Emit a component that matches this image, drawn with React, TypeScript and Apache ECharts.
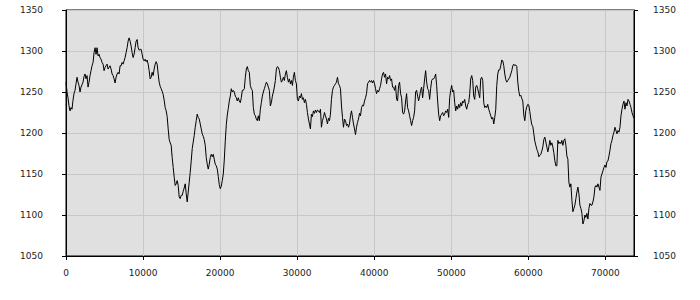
import React, { useEffect, useRef } from "react";
import * as echarts from "echarts";

// Sampling step along the x axis (data units between consecutive samples)
const X_STEP = 130;

// Series values, in order of increasing x
const seg1 = [
  1262, 1250, 1243, 1233, 1227, 1231, 1229, 1240, 1248, 1252, 1260, 1268, 1262, 1258, 1250, 1256, 1259, 1262, 1269, 1272,
  1266, 1270, 1256, 1262, 1270, 1276, 1282, 1286, 1298, 1304, 1296, 1304, 1294, 1296, 1292, 1290, 1286, 1284, 1276, 1280,
  1282, 1284, 1278, 1280, 1282, 1278, 1272, 1270, 1266, 1261, 1268, 1272, 1274, 1272, 1282, 1282, 1286, 1284, 1288, 1292,
  1298, 1304, 1312, 1316, 1312, 1306, 1298, 1292, 1296, 1304, 1312, 1314, 1304, 1301, 1302, 1302, 1296, 1290, 1288, 1290,
  1287,
];
const seg2 = [
  1289, 1284, 1276, 1266, 1268, 1274, 1270, 1278, 1284, 1287, 1284, 1272, 1262, 1257, 1254, 1251, 1247, 1240, 1231, 1227,
  1220, 1205, 1192, 1188, 1185, 1170, 1158, 1146, 1136, 1138, 1142, 1136, 1122, 1120, 1124, 1124, 1129, 1133, 1138, 1126,
  1116, 1128, 1140, 1152, 1166, 1181, 1189, 1197, 1207, 1215, 1223, 1219, 1217, 1211, 1205, 1199, 1196, 1192, 1185, 1170,
  1162, 1156, 1162, 1170, 1174, 1171, 1174, 1168, 1162, 1160, 1156, 1147, 1137, 1132, 1135, 1142, 1150, 1167, 1190, 1210,
  1222, 1230,
];
const seg3 = [
  1239, 1245, 1254, 1250, 1252, 1250, 1245, 1243, 1239, 1243, 1239, 1237, 1243, 1252, 1252, 1254, 1268, 1278, 1281, 1276,
  1274, 1258, 1254, 1252, 1231, 1223, 1221, 1217, 1215, 1221, 1215, 1229, 1237, 1245, 1250, 1254, 1258, 1262, 1260, 1256,
  1252, 1233, 1237, 1245, 1250, 1256, 1264, 1278, 1281, 1280, 1276, 1268, 1262, 1264, 1268, 1264, 1272, 1276, 1268, 1262,
  1266, 1260, 1264, 1258, 1268, 1274, 1264, 1260, 1241, 1239, 1245, 1243, 1248, 1241, 1243, 1237, 1241, 1235, 1225, 1217,
  1211, 1205,
];
const seg4 = [
  1223, 1220, 1227, 1224, 1228, 1225, 1228, 1227, 1225, 1229, 1207, 1215, 1219, 1225, 1221, 1217, 1211, 1218, 1215, 1223,
  1241, 1252, 1256, 1258, 1260, 1262, 1268, 1260, 1258, 1254, 1233, 1219, 1207, 1217, 1215, 1209, 1211, 1207, 1211, 1221,
  1227, 1219, 1211, 1205, 1198, 1207, 1213, 1217, 1224, 1221, 1231, 1234, 1233, 1239, 1243, 1248, 1260, 1262, 1264, 1262,
  1264, 1261, 1264, 1260, 1254, 1248, 1252, 1250, 1254, 1258, 1266, 1272, 1274, 1268, 1272, 1260, 1268, 1266, 1270, 1264,
  1266, 1256,
];
const seg5 = [
  1256, 1252, 1258, 1241, 1239, 1258, 1262, 1248, 1243, 1225, 1223, 1227, 1239, 1248, 1231, 1227, 1221, 1215, 1209, 1215,
  1219, 1227, 1250, 1252, 1245, 1239, 1245, 1252, 1256, 1243, 1254, 1266, 1276, 1262, 1254, 1252, 1241, 1254, 1264, 1266,
  1266, 1268, 1272, 1258, 1239, 1223, 1215, 1221, 1223, 1225, 1221, 1223, 1227, 1225, 1229, 1219, 1243, 1252, 1258, 1250,
  1252, 1237, 1227, 1233, 1229, 1235, 1231, 1237, 1233, 1239, 1237, 1241, 1233, 1229, 1235, 1237, 1248, 1266, 1270, 1264,
  1245, 1241,
];
const seg6 = [
  1256, 1258, 1254, 1248, 1243, 1266, 1268, 1264, 1237, 1231, 1233, 1231, 1235, 1229, 1225, 1221, 1217, 1219, 1211, 1219,
  1229, 1258, 1272, 1277, 1277, 1282, 1289, 1288, 1282, 1272, 1265, 1262, 1264, 1266, 1268, 1272, 1276, 1282, 1284, 1282,
  1283, 1281, 1262, 1251, 1245, 1246, 1242, 1239, 1222, 1215, 1227, 1232, 1235, 1234, 1226, 1217, 1210, 1208, 1199, 1190,
  1185, 1180, 1177, 1171, 1173, 1174, 1178, 1183, 1192, 1195, 1189, 1183, 1177, 1183, 1191, 1185, 1188, 1183, 1176, 1166,
  1160, 1160,
];
const seg7 = [
  1191, 1187, 1189, 1187, 1191, 1185, 1191, 1193, 1185, 1172, 1168, 1140, 1134, 1138, 1118, 1104, 1108, 1112, 1120, 1128,
  1134, 1126, 1112, 1108, 1102, 1089, 1093, 1100, 1097, 1102, 1095, 1108, 1114, 1112, 1112, 1116, 1122, 1134, 1136, 1134,
  1138, 1134, 1130, 1146, 1150, 1154, 1158, 1161, 1158, 1165, 1166, 1172, 1179, 1187, 1191, 1197, 1201, 1207, 1203, 1199,
  1203, 1201, 1207, 1221, 1229, 1235, 1239, 1229, 1237, 1233, 1241, 1239, 1235, 1231, 1225, 1221, 1218,
];

const values: number[] = [...seg1, ...seg2, ...seg3, ...seg4, ...seg5, ...seg6, ...seg7];

const xTicks = { min: 0, interval: 10000 };
const yTicks = { min: 1050, max: 1350, interval: 50 };

const FONT = "'DejaVu Sans', Verdana, sans-serif";
const LABEL_COLOR = "#222";
const plain = (v: number) => String(v);

export default function App() {
  const ref = useRef<HTMLDivElement>(null);

  useEffect(() => {
    if (!ref.current) return;
    const chart = echarts.init(ref.current, undefined, { renderer: "svg" });
    const data = values.map((v, i) => [i * X_STEP, v]);

    const yAxisBase = {
      type: "value" as const,
      min: yTicks.min,
      max: yTicks.max,
      interval: yTicks.interval,
      axisLine: { show: true, lineStyle: { color: "#000", width: 1 } },
      axisTick: { show: true, length: 4, lineStyle: { color: "#000" } },
    };

    chart.setOption({
      animation: false,
      backgroundColor: "#fff",
      grid: {
        left: 66,
        right: 66,
        top: 10,
        bottom: 44,
        show: true,
        backgroundColor: "#e0e0e0",
        borderColor: "#000",
        borderWidth: 1,
      },
      xAxis: {
        type: "value",
        min: xTicks.min,
        max: "dataMax",
        interval: xTicks.interval,
        axisLine: { show: true, lineStyle: { color: "#000", width: 1 } },
        axisTick: { show: true, length: 4, lineStyle: { color: "#000" } },
        axisLabel: {
          color: LABEL_COLOR,
          fontSize: 9,
          fontFamily: FONT,
          margin: 12,
          showMaxLabel: false,
          formatter: plain,
        },
        splitLine: { show: true, lineStyle: { color: "#c8c8c8", width: 1 } },
      },
      yAxis: [
        {
          ...yAxisBase,
          position: "left",
          axisLabel: { color: LABEL_COLOR, fontSize: 9, fontFamily: FONT, margin: 23, formatter: plain },
          splitLine: { show: true, lineStyle: { color: "#c8c8c8", width: 1 } },
        },
        {
          ...yAxisBase,
          position: "right",
          axisLabel: { color: LABEL_COLOR, fontSize: 9, fontFamily: FONT, margin: 19, formatter: plain },
          splitLine: { show: false },
        },
      ],
      series: [
        {
          type: "line",
          data,
          xAxisIndex: 0,
          yAxisIndex: 0,
          showSymbol: false,
          symbol: "none",
          lineStyle: { color: "#000", width: 1 },
          silent: true,
        },
      ],
    });

    return () => chart.dispose();
  }, []);

  return (
    <div
      ref={ref}
      style={{ position: "absolute", left: 0, top: 0, width: 700, height: 300 }}
    />
  );
}
